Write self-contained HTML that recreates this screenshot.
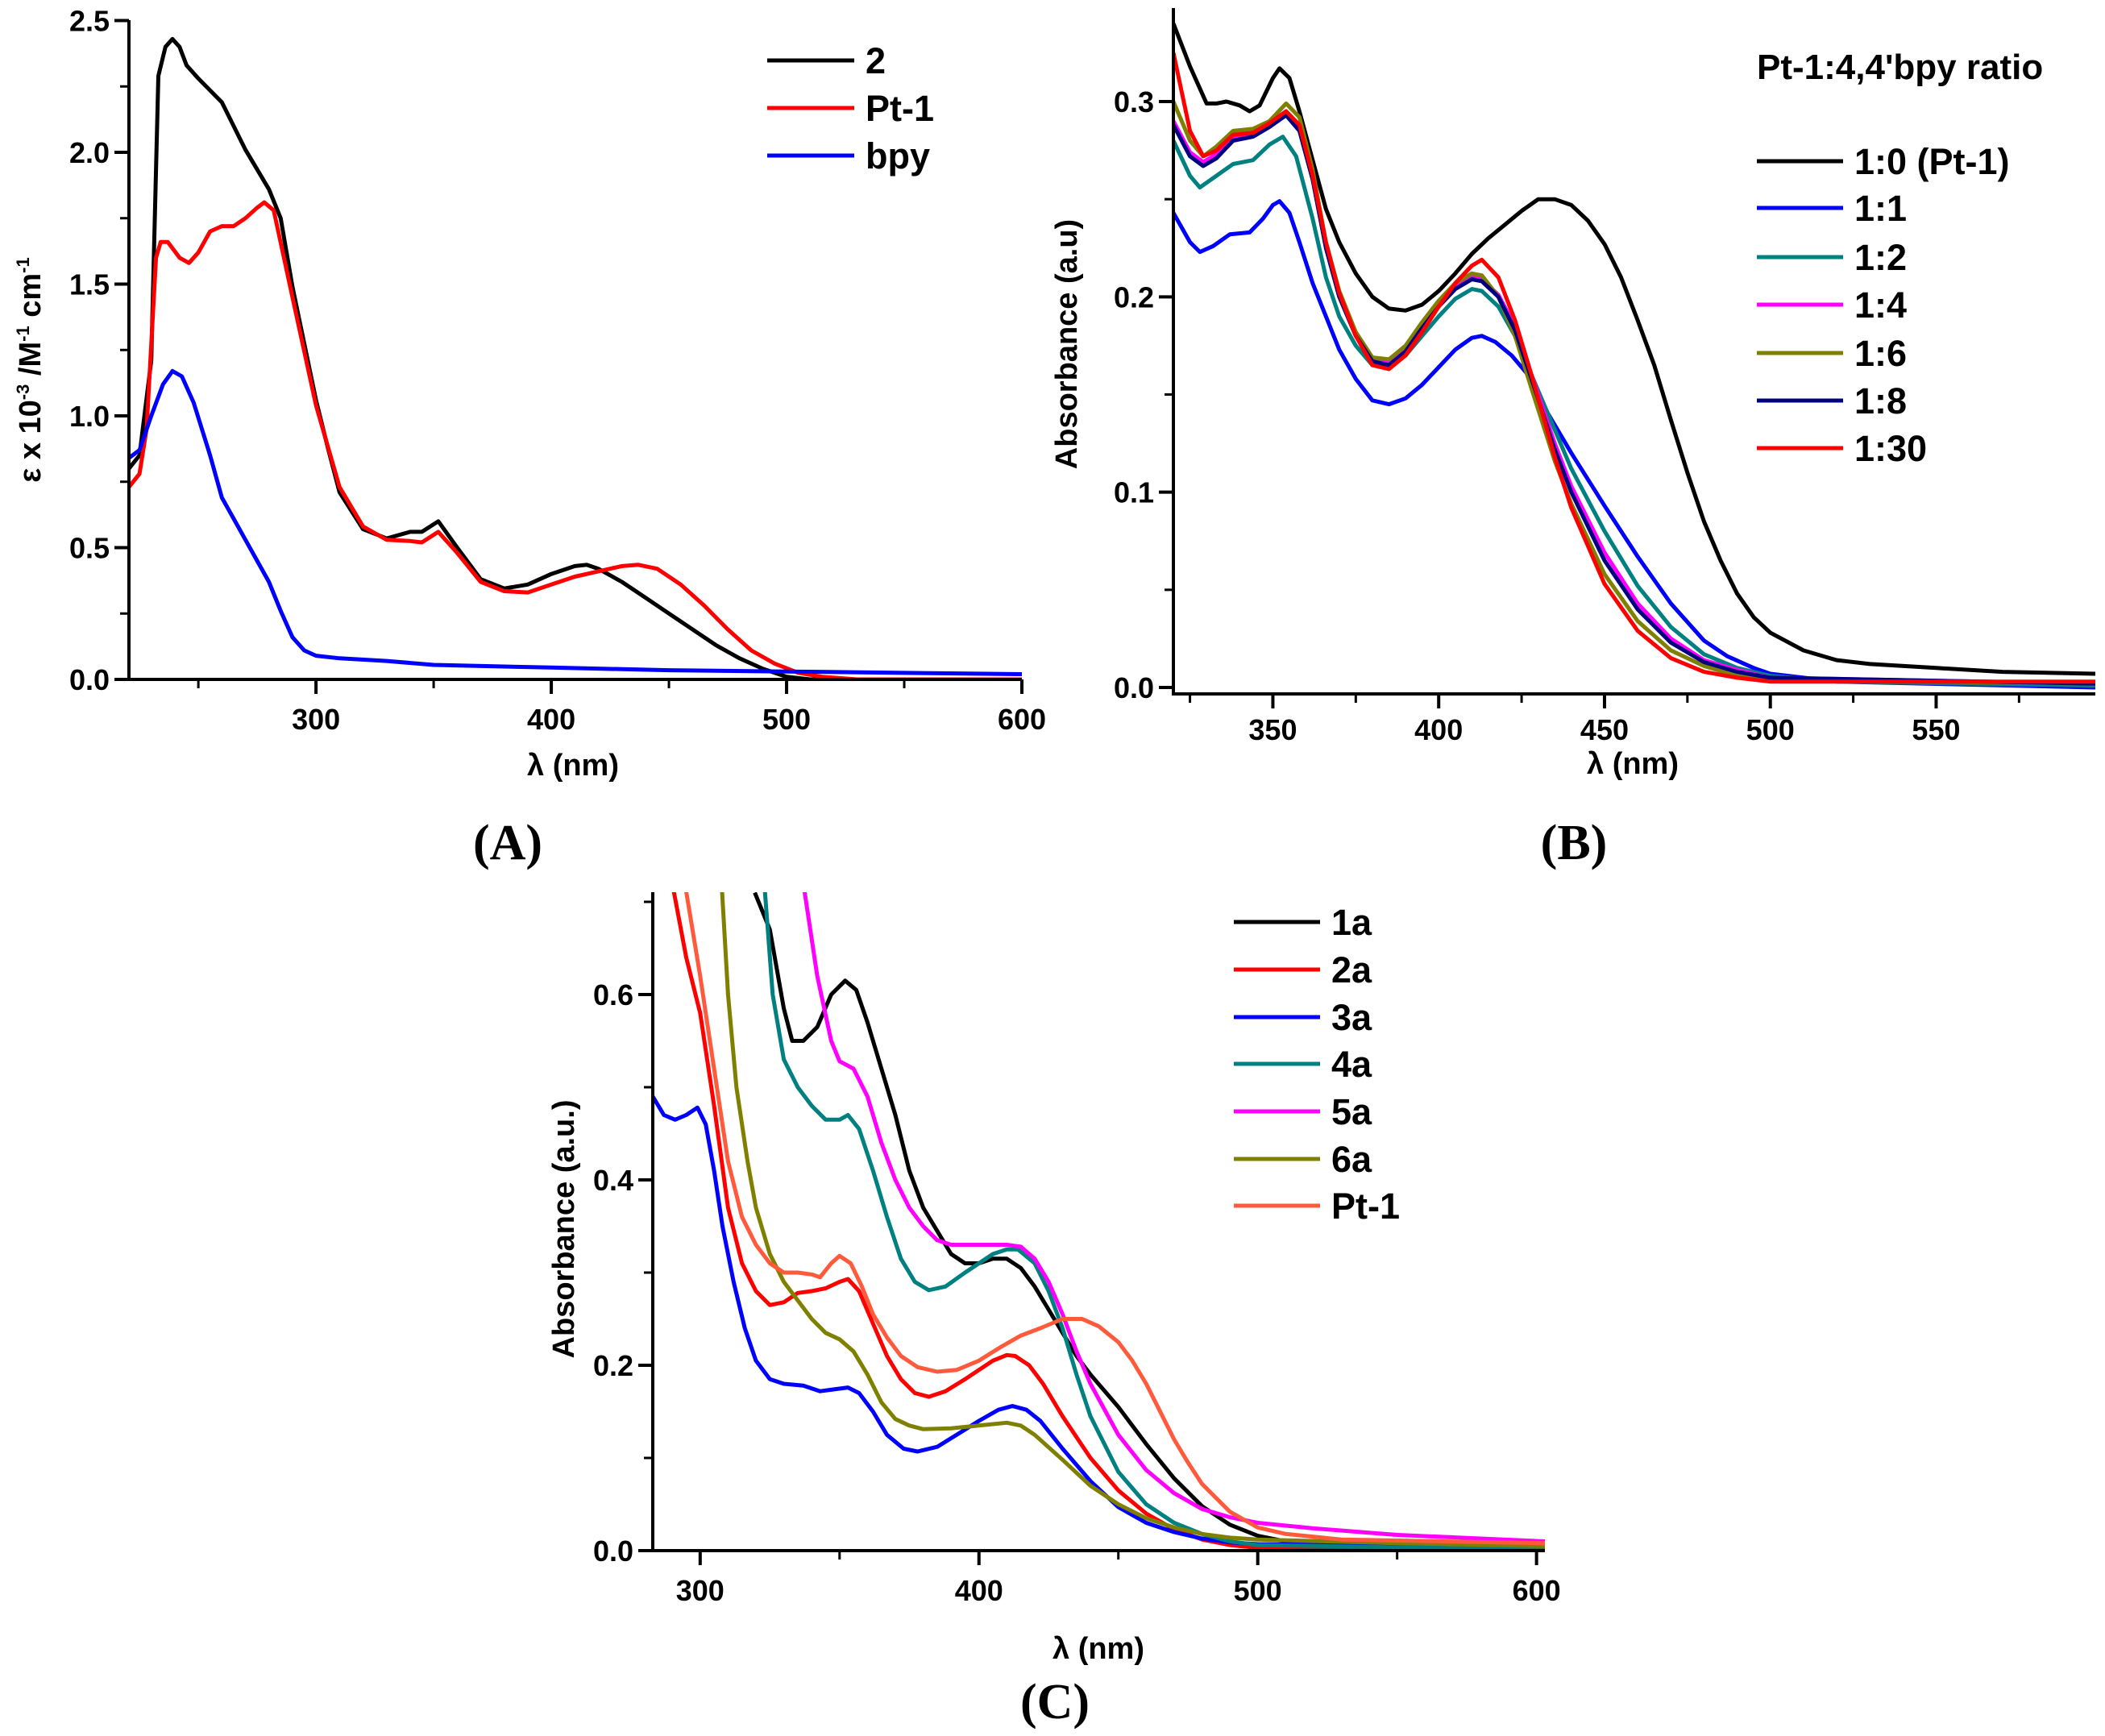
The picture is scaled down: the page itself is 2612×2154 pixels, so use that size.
<!DOCTYPE html>
<html><head><meta charset="utf-8"><style>
html,body{margin:0;padding:0;background:#fff;overflow:hidden}
svg{display:block}
text{font-family:"Liberation Sans",Arial,sans-serif;font-weight:bold}
</style></head><body>
<svg id="fig" width="2612" height="2154" viewBox="0 0 2612 2154" xmlns="http://www.w3.org/2000/svg"></svg>
<script>
// ---------- Panel A data ----------
const aX2 = [220.5,225,230,233,236,239,242,245,250,260,270,280,285,290,300,305,310,320,330,340,345,352,360,370,380,390,400,410,415,420,430,440,450,460,470,480,490,500,510,600];
const aY2 = [0.80,0.85,1.21,2.29,2.40,2.43,2.40,2.33,2.28,2.19,2.01,1.86,1.75,1.49,1.06,0.88,0.71,0.57,0.535,0.56,0.56,0.60,0.50,0.38,0.345,0.36,0.40,0.43,0.435,0.42,0.37,0.31,0.25,0.19,0.13,0.08,0.04,0.01,0.0,0.0];
const aXPt = [220.5,225,228,232,234,237,242,246,250,255,260,265,270,275,278,282,290,300,310,320,330,340,345,352,360,370,380,390,400,410,420,430,437,445,455,465,475,485,495,505,515,530,600];
const aYPt = [0.73,0.78,0.95,1.60,1.66,1.66,1.60,1.58,1.62,1.70,1.72,1.72,1.75,1.79,1.81,1.78,1.45,1.04,0.73,0.58,0.53,0.525,0.52,0.56,0.48,0.37,0.335,0.33,0.36,0.39,0.41,0.43,0.435,0.42,0.36,0.28,0.19,0.11,0.06,0.025,0.01,0.0,0.0];
const aXBpy = [220.5,225,230,235,239,243,248,255,260,265,270,275,280,285,290,295,300,310,330,350,400,450,500,600];
const aYBpy = [0.84,0.87,1.0,1.12,1.17,1.15,1.05,0.85,0.69,0.61,0.53,0.45,0.37,0.26,0.16,0.11,0.09,0.08,0.07,0.055,0.045,0.035,0.03,0.02];
const aXTicks = [300,400,500,600];
const aYTicks = ["0.0","0.5","1.0","1.5","2.0","2.5"];

// ---------- Panel B data ----------
const bX0 = [320,325,330,333,336,340,343,346,350,352,355,358,362,366,370,375,380,385,390,395,400,405,410,415,420,425,430,435,440,445,450,455,460,465,470,475,480,485,490,495,500,510,520,530,550,570,598];
const bY0 = [0.340,0.318,0.299,0.299,0.300,0.298,0.295,0.298,0.312,0.317,0.312,0.295,0.270,0.245,0.228,0.212,0.200,0.194,0.193,0.196,0.203,0.212,0.222,0.230,0.237,0.244,0.250,0.250,0.247,0.239,0.227,0.210,0.188,0.165,0.137,0.110,0.085,0.065,0.048,0.036,0.028,0.019,0.014,0.012,0.010,0.008,0.007];
const bX1 = [320,325,328,332,337,343,347,350,352,355,358,362,366,370,375,380,385,390,395,400,405,410,413,417,422,427,432,440,450,460,470,480,487,495,500,520,598];
const bY1 = [0.243,0.228,0.223,0.226,0.232,0.233,0.240,0.247,0.249,0.243,0.228,0.207,0.190,0.173,0.158,0.147,0.145,0.148,0.155,0.164,0.173,0.179,0.180,0.177,0.170,0.160,0.143,0.120,0.093,0.067,0.043,0.024,0.016,0.010,0.007,0.003,0.0];
const bX2 = [320,325,328,333,338,344,349,353,357,362,366,370,375,380,385,390,395,400,405,410,413,418,423,428,435,440,450,460,470,480,490,500,520,598];
const bY2 = [0.280,0.262,0.256,0.262,0.268,0.270,0.278,0.282,0.272,0.240,0.210,0.190,0.175,0.165,0.164,0.170,0.180,0.190,0.199,0.204,0.203,0.195,0.180,0.160,0.132,0.112,0.080,0.052,0.031,0.017,0.010,0.006,0.003,0.001];
const bXn = [320,325,329,333,338,344,349,354,358,362,366,370,375,380,385,390,395,400,405,410,413,418,423,428,435,440,450,460,470,480,490,500,598];
const bY4 = [0.290,0.274,0.269,0.273,0.282,0.284,0.289,0.295,0.287,0.262,0.227,0.201,0.181,0.168,0.166,0.173,0.185,0.196,0.205,0.210,0.209,0.201,0.185,0.160,0.125,0.103,0.069,0.043,0.025,0.014,0.009,0.005,0.002];
const bY6 = [0.300,0.280,0.272,0.277,0.285,0.286,0.290,0.299,0.292,0.265,0.228,0.203,0.182,0.169,0.168,0.175,0.187,0.198,0.207,0.212,0.211,0.200,0.180,0.153,0.116,0.094,0.058,0.034,0.019,0.011,0.006,0.004,0.002];
const bY8 = [0.288,0.272,0.267,0.271,0.280,0.282,0.287,0.293,0.285,0.260,0.225,0.200,0.180,0.167,0.165,0.172,0.184,0.195,0.204,0.209,0.208,0.200,0.183,0.158,0.122,0.100,0.065,0.040,0.023,0.013,0.008,0.005,0.002];
const bY30 = [0.325,0.285,0.272,0.275,0.283,0.284,0.289,0.295,0.288,0.262,0.228,0.202,0.180,0.165,0.163,0.170,0.182,0.195,0.207,0.216,0.219,0.210,0.188,0.160,0.118,0.092,0.053,0.029,0.015,0.008,0.005,0.003,0.003];
const bXTicks = [350,400,450,500,550];
const bYTicks = ["0.0","0.1","0.2","0.3"];

// ---------- Panel C data ----------
const cX1a = [319.6,325,330,333,337,342,347,352,356,360,365,370,375,380,385,390,395,400,405,410,415,420,425,430,435,440,450,460,470,480,490,500,510,530,603];
const cY1a = [0.71,0.67,0.585,0.55,0.55,0.565,0.60,0.615,0.605,0.57,0.52,0.47,0.41,0.37,0.345,0.32,0.31,0.31,0.315,0.315,0.305,0.285,0.26,0.235,0.21,0.19,0.155,0.115,0.078,0.048,0.028,0.016,0.010,0.006,0.004];
const cX2a = [290,295,300,305,310,315,320,325,330,335,340,345,350,353,357,362,367,372,377,382,388,395,400,405,410,413,418,423,430,440,450,460,470,480,490,500,603];
const cY2a = [0.72,0.64,0.58,0.48,0.37,0.31,0.28,0.265,0.268,0.278,0.28,0.283,0.29,0.293,0.28,0.245,0.21,0.185,0.17,0.166,0.172,0.185,0.195,0.205,0.211,0.210,0.200,0.18,0.145,0.10,0.065,0.040,0.023,0.012,0.006,0.003,0.0];
const cX3a = [283,287,291,295,299,302,305,308,312,316,320,325,330,337,343,348,353,357,362,367,373,378,385,392,400,407,412,417,422,430,440,450,460,470,480,490,500,603];
const cY3a = [0.49,0.47,0.465,0.47,0.478,0.46,0.41,0.35,0.29,0.24,0.205,0.185,0.18,0.178,0.172,0.174,0.176,0.17,0.15,0.125,0.11,0.107,0.112,0.125,0.14,0.152,0.156,0.152,0.14,0.11,0.075,0.047,0.030,0.020,0.013,0.009,0.007,0.004];
const cX4a = [323,326,330,335,340,345,350,353,357,362,367,372,377,382,388,395,400,405,410,414,420,425,430,435,440,450,460,470,480,490,500,603];
const cY4a = [0.72,0.6,0.53,0.50,0.48,0.465,0.465,0.47,0.455,0.41,0.36,0.315,0.29,0.281,0.285,0.30,0.31,0.32,0.325,0.325,0.31,0.28,0.24,0.19,0.145,0.085,0.05,0.03,0.018,0.01,0.006,0.001];
const cX5a = [337,342,347,350,355,360,365,370,375,380,385,390,400,410,415,420,425,430,435,440,450,460,470,480,490,500,520,550,603];
const cY5a = [0.72,0.62,0.55,0.528,0.52,0.49,0.44,0.40,0.37,0.35,0.335,0.33,0.33,0.33,0.328,0.315,0.29,0.255,0.215,0.18,0.125,0.087,0.062,0.045,0.036,0.03,0.024,0.017,0.01];
const cX6a = [307.7,310,313,317,320,325,330,335,340,345,350,355,360,365,370,375,380,390,400,410,415,420,430,440,450,460,470,480,490,500,550,603];
const cY6a = [0.72,0.60,0.50,0.42,0.37,0.32,0.29,0.27,0.25,0.235,0.228,0.215,0.19,0.16,0.142,0.135,0.131,0.132,0.135,0.138,0.135,0.125,0.098,0.07,0.05,0.035,0.025,0.018,0.014,0.012,0.008,0.005];
const cXPt = [294.5,300,305,310,315,320,325,330,335,340,343,347,350,354,358,362,367,372,378,385,392,400,408,415,422,430,437,443,450,455,460,465,470,475,480,490,500,510,530,603];
const cYPt = [0.72,0.62,0.52,0.42,0.36,0.33,0.31,0.30,0.30,0.298,0.295,0.31,0.318,0.31,0.285,0.255,0.23,0.21,0.198,0.193,0.195,0.205,0.22,0.232,0.24,0.25,0.25,0.242,0.225,0.205,0.18,0.15,0.12,0.095,0.072,0.042,0.025,0.018,0.012,0.008];
const cXTicks = [300,400,500,600];
const cYTicks = ["0.0","0.2","0.4","0.6"];

const NS = "http://www.w3.org/2000/svg";
const svg = document.getElementById('fig');
function mk(tag, attrs, parent) {
  const e = document.createElementNS(NS, tag);
  for (const k in attrs) e.setAttribute(k, attrs[k]);
  (parent || svg).appendChild(e);
  return e;
}
function txt(s, x, y, size, anchor, parent, name, extra) {
  const t = mk('text', Object.assign({x: x, y: y, 'font-size': size, 'text-anchor': anchor || 'middle'}, extra || {}), parent);
  t.textContent = s;
  
  
  return t;
}

function panel(cfg) {
  const g = mk('g', {});
  
  
  const sx = v => cfg.px0 + (v - cfg.x0) / (cfg.x1 - cfg.x0) * (cfg.px1 - cfg.px0);
  const sy = v => cfg.py0 - (v - cfg.y0) / (cfg.y1 - cfg.y0) * (cfg.py0 - cfg.py1);
  const axB = cfg.axisBottom, axT = cfg.axisTop;
  const clipId = 'clip-' + cfg.name;
  const defs = mk('defs', {}, g);
  const cp = mk('clipPath', {id: clipId}, defs);
  mk('rect', {x: cfg.px0, y: axT, width: cfg.px1 - cfg.px0, height: axB - axT}, cp);
  const sg = mk('g', {'clip-path': 'url(#' + clipId + ')'}, g);
  
  
  cfg.series.forEach(s => {
    let d = '';
    for (let i = 0; i < s.x.length; i++) d += (i ? 'L' : 'M') + sx(s.x[i]).toFixed(1) + ',' + sy(s.y[i]).toFixed(1);
    const p = mk('path', {d: d, fill: 'none', stroke: s.color, 'stroke-width': 5, 'stroke-linejoin': 'round'}, sg);
    
    
  });
  const ax = mk('path', {d: 'M' + cfg.px0 + ',' + axT + 'L' + cfg.px0 + ',' + axB + 'L' + cfg.px1 + ',' + axB, fill: 'none', stroke: '#000', 'stroke-width': 4}, g);
  
  
  cfg.xMinor.forEach(v => mk('line', {x1: sx(v), x2: sx(v), y1: axB, y2: axB + 11, stroke: '#000', 'stroke-width': 3}, g));
  cfg.xTicks.forEach(v => {
    mk('line', {x1: sx(v), x2: sx(v), y1: axB, y2: axB + 18, stroke: '#000', 'stroke-width': 4}, g);
    txt(String(v), sx(v), axB + cfg.xlabOff, 36, 'middle', g, 'x-tick-label');
  });
  cfg.yMinor.forEach(v => mk('line', {x1: cfg.px0 - 11, x2: cfg.px0, y1: sy(v), y2: sy(v), stroke: '#000', 'stroke-width': 3}, g));
  cfg.yTicks.forEach(s => {
    const v = parseFloat(s);
    mk('line', {x1: cfg.px0 - 18, x2: cfg.px0, y1: sy(v), y2: sy(v), stroke: '#000', 'stroke-width': 4}, g);
    txt(s, cfg.px0 - 24, sy(v) + 13, 36, 'end', g, 'y-tick-label');
  });
  txt('λ (nm)', cfg.xlx, cfg.xly, 38, 'middle', g, 'x-axis-title');
  const yl = txt(cfg.ytitle, 0, 0, 38, 'middle', g, 'y-axis-title', {transform: 'translate(' + cfg.ylx + ',' + cfg.yly + ') rotate(-90)'});
  if (cfg.ysup) { yl.innerHTML = cfg.ysup; }
  const lg = mk('g', {}, g);
  
  
  if (cfg.legTitle) txt(cfg.legTitle, cfg.legX, cfg.legTitleY, 44, 'start', lg, 'legend-title');
  cfg.series.forEach((s, i) => {
    const y = cfg.legY[i];
    const e = mk('g', {}, lg);
    
    
    mk('line', {x1: cfg.legX, x2: cfg.legX + cfg.legLen, y1: y, y2: y, stroke: s.color, 'stroke-width': 5}, e);
    txt(s.label, cfg.legX + cfg.legLen + 14, y + 16, 45, 'start', e, 'legend-label');
  });
}

panel({name: 'panel-a', x0: 220.5, x1: 600, px0: 160, px1: 1268, y0: 0, y1: 2.5, py0: 843, py1: 25.5,
  axisTop: 25, axisBottom: 843, xlabOff: 62,
  xTicks: aXTicks, xMinor: [250,350,450,550], yTicks: aYTicks, yMinor: [0.25,0.75,1.25,1.75,2.25],
  xlx: 711, xly: 962, ylx: 50, yly: 459, ytitle: 'ε x 10-3 /M-1 cm-1',
  ysup: 'ε x 10<tspan dy="-14" font-size="22">-3</tspan><tspan dy="14"> /M</tspan><tspan dy="-14" font-size="22">-1</tspan><tspan dy="14"> cm</tspan><tspan dy="-14" font-size="22">-1</tspan>',
  legX: 952, legLen: 108, legY: [75,134,193],
  series: [{label: '2', color: '#000', x: aX2, y: aY2}, {label: 'Pt-1', color: '#ff0000', x: aXPt, y: aYPt}, {label: 'bpy', color: '#0000ff', x: aXBpy, y: aYBpy}]});

panel({name: 'panel-b', x0: 320, x1: 598, px0: 1456, px1: 2600, y0: 0, y1: 0.3, py0: 853, py1: 126,
  axisTop: 10, axisBottom: 861, xlabOff: 57,
  xTicks: bXTicks, xMinor: [325,375,425,475,525,575], yTicks: bYTicks, yMinor: [0.05,0.15,0.25],
  xlx: 2026, xly: 960, ylx: 1336, yly: 427, ytitle: 'Absorbance (a.u)',
  legTitle: "Pt-1:4,4'bpy ratio", legTitleY: 98, legX: 2180, legLen: 107, legY: [200,258,319,378,438,497,556],
  series: [{label: '1:0 (Pt-1)', color: '#000', x: bX0, y: bY0}, {label: '1:1', color: '#0000ff', x: bX1, y: bY1},
    {label: '1:2', color: '#008080', x: bX2, y: bY2}, {label: '1:4', color: '#ff00ff', x: bXn, y: bY4},
    {label: '1:6', color: '#808000', x: bXn, y: bY6}, {label: '1:8', color: '#000080', x: bXn, y: bY8},
    {label: '1:30', color: '#ff0000', x: bXn, y: bY30}]});

panel({name: 'panel-c', x0: 283, x1: 603, px0: 810, px1: 1917, y0: 0, y1: 0.6, py0: 1924, py1: 1234,
  axisTop: 1107, axisBottom: 1924, xlabOff: 62,
  xTicks: cXTicks, xMinor: [350,450,550], yTicks: cYTicks, yMinor: [0.1,0.3,0.5,0.7],
  xlx: 1363, xly: 2058, ylx: 712, yly: 1525, ytitle: 'Absorbance (a.u.)',
  legX: 1531, legLen: 107, legY: [1144,1203,1262,1320,1379,1438,1496],
  series: [{label: '1a', color: '#000', x: cX1a, y: cY1a}, {label: '2a', color: '#ff0000', x: cX2a, y: cY2a},
    {label: '3a', color: '#0000ff', x: cX3a, y: cY3a}, {label: '4a', color: '#008080', x: cX4a, y: cY4a},
    {label: '5a', color: '#ff00ff', x: cX5a, y: cY5a}, {label: '6a', color: '#808000', x: cX6a, y: cY6a},
    {label: 'Pt-1', color: '#ff5a3c', x: cXPt, y: cYPt}]});

const labels = [['(A)', 630, 1066, 'panel-label-a'], ['(B)', 1953, 1066, 'panel-label-b'], ['(C)', 1309, 2132, 'panel-label-c']];
labels.forEach(l => {
  const t = txt(l[0], l[1], l[2], 62, 'middle', svg, l[3]);
  t.setAttribute('style', 'font-family:"Liberation Serif",serif;font-weight:bold');
});
</script>
</body></html>
